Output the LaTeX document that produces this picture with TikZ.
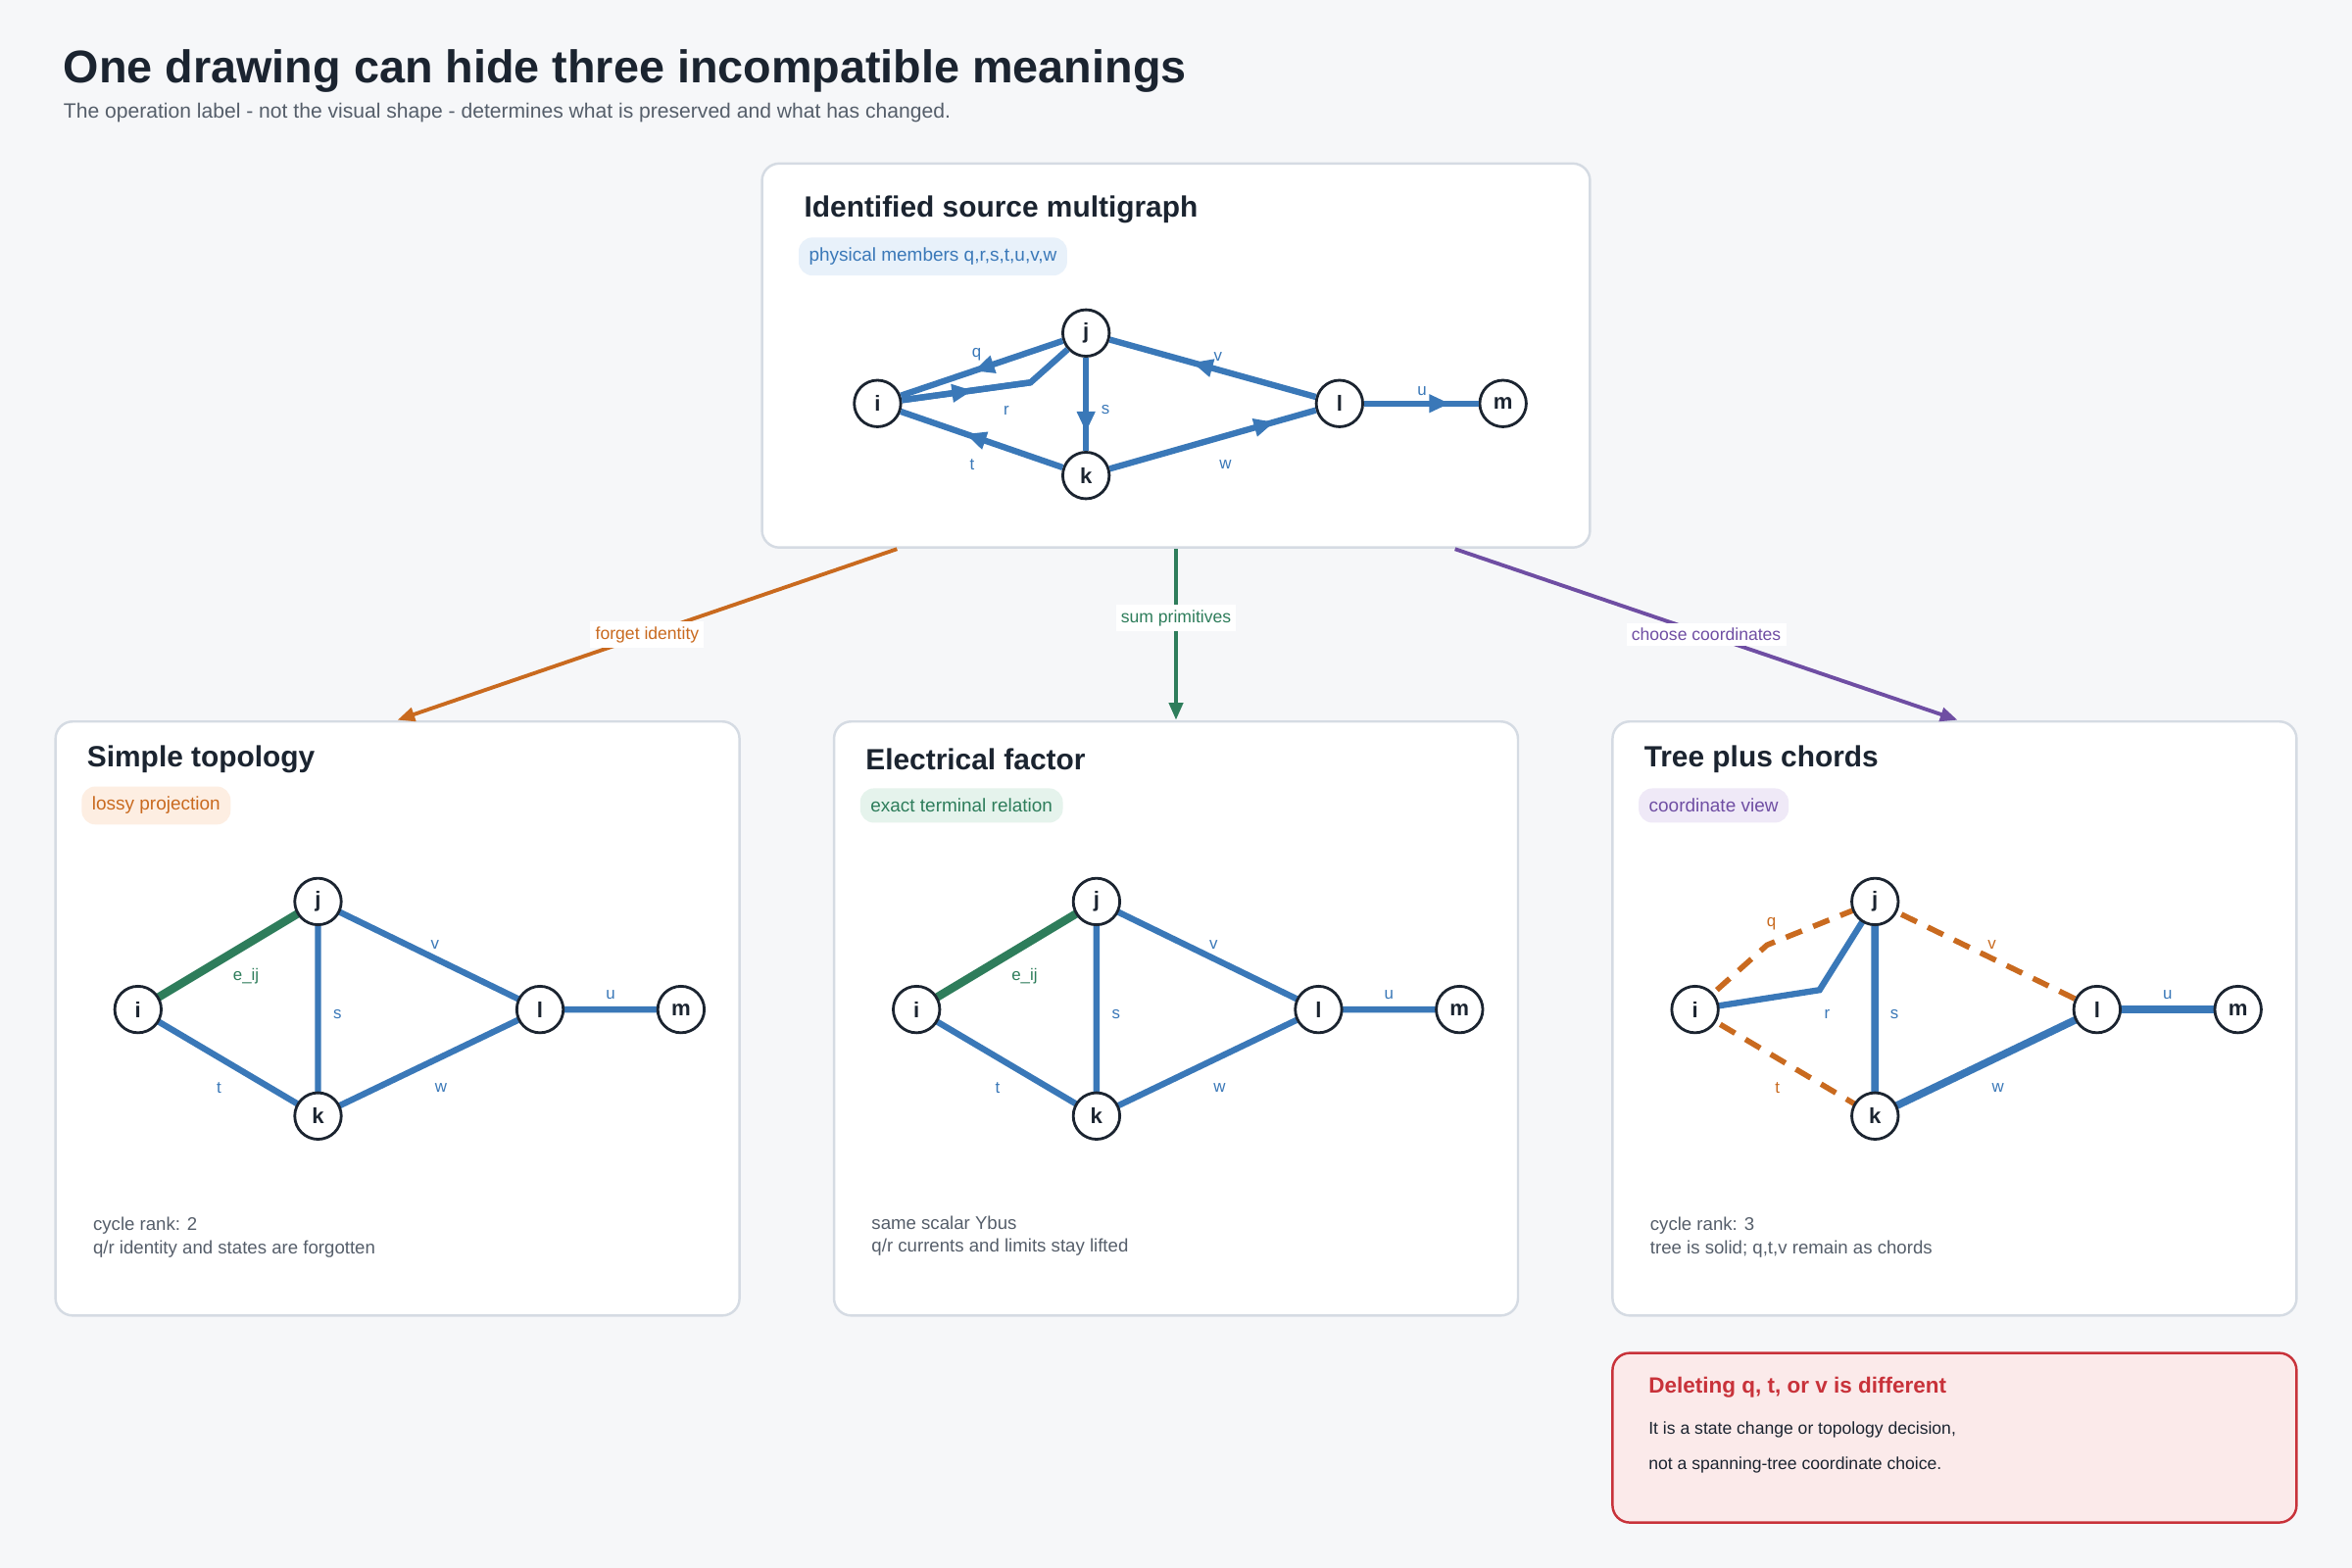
\documentclass[tikz,border=0pt]{standalone}
\usepackage{fontspec}
\setmainfont{Liberation Sans}
\usetikzlibrary{arrows.meta,decorations.markings}

\definecolor{bg}{HTML}{F6F7F9}
\definecolor{frame}{HTML}{D5DBE3}
\definecolor{ink}{HTML}{1B2430}
\definecolor{muted}{HTML}{555E6A}
\definecolor{edgeblue}{HTML}{3A78B8}
\definecolor{pillblue}{HTML}{E8F1FA}
\definecolor{orng}{HTML}{C96A1F}
\definecolor{pillorng}{HTML}{FDEEE2}
\definecolor{grn}{HTML}{2E7D5B}
\definecolor{pillgrn}{HTML}{E5F3EC}
\definecolor{purp}{HTML}{6F4EA3}
\definecolor{pillpurp}{HTML}{EFE9F7}
\definecolor{warn}{HTML}{C8323A}
\definecolor{warnfill}{HTML}{FBEAEA}

\tikzset{
  panel/.style={draw=frame,line width=0.7pt,fill=white,rounded corners=5pt},
  ptitle/.style={anchor=west,text=ink,font=\fontsize{8.5}{10}\selectfont\bfseries},
  pill/.style={anchor=west,rounded corners=4pt,inner sep=3pt,minimum height=9pt,font=\fontsize{5.4}{6}\selectfont},
  vtx/.style={circle,draw=ink,line width=0.8pt,fill=white,minimum size=13.5pt,inner sep=0pt,text=ink,font=\fontsize{6.3}{7}\selectfont\bfseries},
  edge/.style={draw=edgeblue,line width=1.8pt},
  chord/.style={draw=orng,line width=1.6pt,dash pattern=on 5pt off 3.5pt},
  elab/.style={text=edgeblue,font=\fontsize{4.8}{5}\selectfont},
  foot/.style={anchor=west,text=muted,font=\fontsize{5.3}{6.6}\selectfont,align=left},
  marrow/.style={postaction={decorate},decoration={markings,
      mark=at position #1 with {\arrow{Triangle[length=6pt,width=5pt]}}}},
  link/.style={line width=1.1pt,-{Triangle[length=5pt,width=4pt]}},
  llab/.style={fill=white,inner sep=1.5pt,font=\fontsize{5}{6}\selectfont},
}

\begin{document}
\begin{tikzpicture}[x=0.0153cm,y=-0.0153cm]
  \fill[bg] (0,0) rectangle (1568,1045);
  \useasboundingbox (0,0) rectangle (1568,1045);

  % heading
  \node[anchor=base west,inner sep=0pt,text=ink,font=\fontsize{13.3}{15}\selectfont\bfseries] (title) at (42,55) {One drawing can hide three incompatible meanings};
  \node[anchor=base west,inner sep=0pt,text=muted,font=\fontsize{6}{7}\selectfont] (sub) at (42,79) {The operation label - not the visual shape - determines what is preserved and what has changed.};

  % source panel
  \draw[panel] (508,109) rectangle (1060,365);
  \node[ptitle] at (528,140) {Identified source multigraph};
  \node[pill,fill=pillblue,text=edgeblue] at (532,171) {physical members q,r,s,t,u,v,w};
  \node[vtx] (si) at (585,269) {i};
  \node[vtx] (sj) at (724,222) {j};
  \node[vtx] (sk) at (724,317) {k};
  \node[vtx] (sl) at (893,269) {l};
  \node[vtx] (sm) at (1002,269) {m};
  \coordinate (sr) at (687,255);
  \begin{scope}[on background layer/.style={}]
    \draw[edge,marrow=0.55] (sj) -- (si);
    \draw[edge] (si) -- (sr) -- (sj);
    \draw[edge,marrow=0.55] (si) -- (sr);
    \draw[edge,marrow=0.8] (sj) -- (sk);
    \draw[edge,marrow=0.6] (sk) -- (si);
    \draw[edge,marrow=0.6] (sl) -- (sj);
    \draw[edge,marrow=0.8] (sk) -- (sl);
    \draw[edge,marrow=0.75] (sl) -- (sm);
  \end{scope}
  \node[elab] at (651,236) {q};
  \node[elab] at (671,274) {r};
  \node[elab] at (737,273) {s};
  \node[elab] at (648,310) {t};
  \node[elab] at (812,238) {v};
  \node[elab] at (817,310) {w};
  \node[elab] at (948,261) {u};

  % three views
  \foreach \p/\x/\name/\tag/\pf/\pt in {
      a/37/Simple topology/lossy projection/pillorng/orng,
      b/556/Electrical factor/exact terminal relation/pillgrn/grn,
      c/1075/Tree plus chords/coordinate view/pillpurp/purp} {
    \draw[panel] (\x,481) rectangle (\x+456,877);
    \node[ptitle] at (\x+13,506) {\name};
    \node[pill,fill=\pf,text=\pt] at (\x+17,537) {\tag};
  }
  \coordinate (pa) at (37,481);
  \coordinate (pb) at (556,481);
  \coordinate (pc) at (1075,481);

  % graph edges first, nodes on top
  \foreach \p/\x in {a/37,b/556,c/1075} {
    \coordinate (\p i) at (\x+55,673);
    \coordinate (\p j) at (\x+175,601);
    \coordinate (\p k) at (\x+175,744);
    \coordinate (\p l) at (\x+323,673);
    \coordinate (\p m) at (\x+417,673);
  }
  \foreach \p in {a,b} {
    \draw[edge,draw=grn,line width=2.4pt] (\p i) -- (\p j);
    \draw[edge] (\p j) -- (\p k) (\p i) -- (\p k) (\p j) -- (\p l) (\p k) -- (\p l) (\p l) -- (\p m);
  }
  \coordinate (cq) at (1178,630);
  \coordinate (cr) at (1213,660);
  \draw[chord] (ci) -- (cq) -- (cj);
  \draw[chord] (ci) -- (ck);
  \draw[chord] (cj) -- (cl);
  \draw[edge] (ci) -- (cr) -- (cj);
  \draw[edge,line width=2.2pt] (cj) -- (ck) (ck) -- (cl) (cl) -- (cm);

  \foreach \p/\x in {a/37,b/556,c/1075} {
    \node[vtx] (\p I) at (\p i) {i};
    \node[vtx] (\p J) at (\p j) {j};
    \node[vtx] (\p K) at (\p k) {k};
    \node[vtx] (\p L) at (\p l) {l};
    \node[vtx] (\p M) at (\p m) {m};
    \node[elab] at (\x+188,676) {s};
    \node[elab] at (\x+109,725) {t};
    \node[elab] at (\x+253,630) {v};
    \node[elab] at (\x+257,725) {w};
    \node[elab] at (\x+370,663) {u};
  }
  \node[elab,text=grn] at (164,651) {e\_ij};
  \node[elab,text=grn] at (683,651) {e\_ij};
  % chord labels overwrite
  \node[elab,text=orng,fill=white,inner sep=0.5pt] at (1181,616) {q};
  \node[elab] at (1218,676) {r};
  \node[elab,text=orng,fill=white,inner sep=0.5pt] at (1328,630) {v};
  \node[elab,text=orng,fill=white,inner sep=0.5pt] at (1185,725) {t};

  \node[foot] at (54,825) {cycle rank: 2\\q/r identity and states are forgotten};
  \node[foot] at (573,824) {same scalar Ybus\\q/r currents and limits stay lifted};
  \node[foot] at (1092,825) {cycle rank: 3\\tree is solid; q,t,v remain as chords};

  % operations
  \coordinate (oa) at (598,366);
  \coordinate (ob) at (784,366);
  \coordinate (oc) at (970,366);
  \draw[link,orng] (oa) -- (265,480) node[pos=0.5,llab,text=orng] {forget identity};
  \draw[link,grn] (ob) -- (784,480) node[pos=0.404,llab,text=grn] {sum primitives};
  \draw[link,purp] (oc) -- (1305,480) node[pos=0.5,llab,text=purp] {choose coordinates};

  % warning
  \draw[draw=warn,fill=warnfill,line width=0.7pt,rounded corners=5pt] (1075,902) rectangle (1531,1015);
  \node[anchor=west,text=warn,font=\fontsize{6.4}{8}\selectfont\bfseries] at (1091,925) {Deleting q, t, or v is different};
  \node[anchor=west,text=ink,font=\fontsize{5}{6}\selectfont] at (1091,953) {It is a state change or topology decision,};
  \node[anchor=west,text=ink,font=\fontsize{5}{6}\selectfont] at (1091,977) {not a spanning-tree coordinate choice.};
\end{tikzpicture}
\end{document}
